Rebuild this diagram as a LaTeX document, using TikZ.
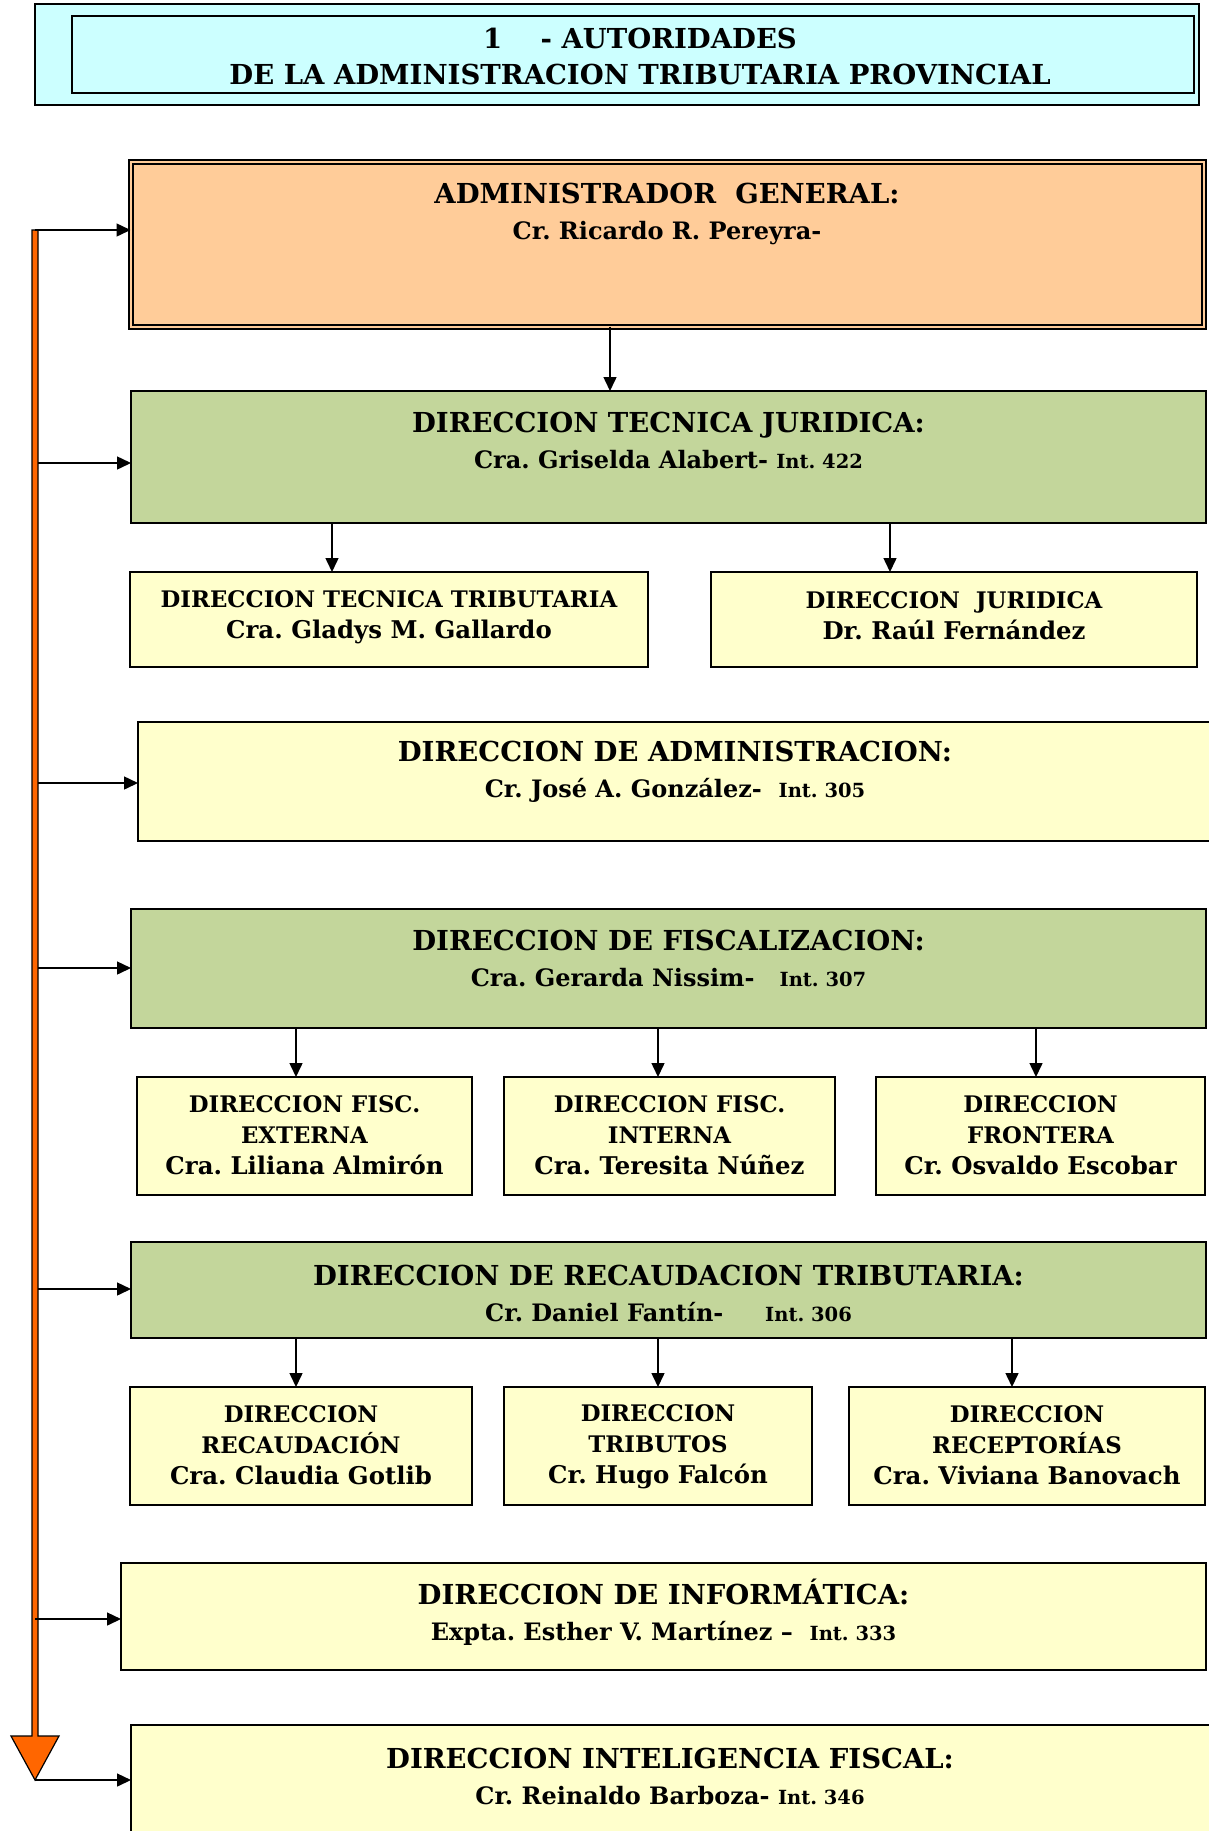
\documentclass[tikz,border=0pt]{standalone}
\usepackage{fontspec}
\setmainfont{DejaVu Serif}
\usetikzlibrary{arrows.meta,calc}

\definecolor{titlecyan}{HTML}{CCFFFF}
\definecolor{peach}{HTML}{FFCC99}
\definecolor{boxgreen}{HTML}{C3D69B}
\definecolor{boxyellow}{HTML}{FFFFCC}
\definecolor{trunkorange}{HTML}{FF6600}

\newcommand\intsize{\fontsize{19.5}{36}\selectfont}
\newcommand\namesize{\fontsize{24}{36}\selectfont}
\newcommand\subname{\fontsize{24.4}{34}\selectfont}
\frenchspacing

\begin{document}
\begin{tikzpicture}[x=1pt,y=-1pt,
    box/.style={draw,line width=1.5pt,inner sep=0pt,outer sep=0pt},
    head/.style={align=center,font=\bfseries\fontsize{27.5}{36}\selectfont},
    sub/.style={align=center,font=\bfseries\fontsize{22.8}{31}\selectfont},
    arr/.style={line width=1.5pt,-{Triangle[length=14pt,width=13pt]}},
    trunk/.style={draw,line width=1.2pt,fill=trunkorange,line join=miter}]
  \useasboundingbox (0,0) rectangle (1208,1831);
  % Title
  \draw (617,54.5) node[box,fill=titlecyan,minimum width=1164,minimum height=101] (TB) {};
  \draw (633,54.5) node[box,minimum width=1122,minimum height=77] (TI) {};
  \node[head] (TT) at (640,56) {1\ \ \ \ - AUTORIDADES\\DE LA ADMINISTRACION TRIBUTARIA PROVINCIAL};
  % General
  \draw (667,244) node[box,line width=2pt,fill=peach,double=peach,double distance=2pt,minimum width=1073,minimum height=165] (G) {};
  \node[head] (GT) at (667,214) {ADMINISTRADOR\ \ GENERAL:\\{\namesize Cr. Ricardo R. Pereyra-}};
  % Tecnica juridica
  \draw (668.5,457) node[box,fill=boxgreen,minimum width=1075,minimum height=132] (J) {};
  \node[head] (JT) at (668.5,440) {DIRECCION TECNICA JURIDICA:\\{\namesize Cra. Griselda Alabert- {\intsize Int. 422}}};
  \draw (389,619.5) node[box,fill=boxyellow,minimum width=518,minimum height=95] (J1) {};
  \node[sub] (J1T) at (389,617) {DIRECCION TECNICA TRIBUTARIA\\{\subname Cra. Gladys M. Gallardo}};
  \draw (954,619.5) node[box,fill=boxyellow,minimum width=486,minimum height=95] (J2) {};
  \node[sub] (J2T) at (954,616) {DIRECCION\ \ JURIDICA\\{\subname Dr. Raúl Fernández}};
  % Administracion
  \draw (676.5,781.5) node[box,fill=boxyellow,minimum width=1077,minimum height=119] (A) {};
  \node[head] (AT) at (675,772) {DIRECCION DE ADMINISTRACION:\\{\namesize Cr. José A. González-\ \ {\intsize Int. 305}}};
  % Fiscalizacion
  \draw (668.5,968.5) node[box,fill=boxgreen,minimum width=1075,minimum height=119] (F) {};
  \node[head] (FT) at (668.5,958) {DIRECCION DE FISCALIZACION:\\{\namesize Cra. Gerarda Nissim-\ \ \ {\intsize Int. 307}}};
  \draw (304.5,1136) node[box,fill=boxyellow,minimum width=335,minimum height=118] (F1) {};
  \node[sub] (F1T) at (304.5,1135) {DIRECCION FISC.\\EXTERNA\\{\subname Cra. Liliana Almirón}};
  \draw (669.5,1136) node[box,fill=boxyellow,minimum width=331,minimum height=118] (F2) {};
  \node[sub] (F2T) at (669.5,1135) {DIRECCION FISC.\\INTERNA\\{\subname Cra. Teresita Núñez}};
  \draw (1040.5,1136) node[box,fill=boxyellow,minimum width=329,minimum height=118] (F3) {};
  \node[sub] (F3T) at (1040.5,1135) {DIRECCION\\FRONTERA\\{\subname Cr. Osvaldo Escobar}};
  % Recaudacion
  \draw (668.5,1290) node[box,fill=boxgreen,minimum width=1075,minimum height=96] (R) {};
  \node[head] (RT) at (668.5,1293) {DIRECCION DE RECAUDACION TRIBUTARIA:\\{\namesize Cr. Daniel Fantín-\ \ \ \ \ {\intsize Int. 306}}};
  \draw (301,1446) node[box,fill=boxyellow,minimum width=342,minimum height=118] (R1) {};
  \node[sub] (R1T) at (301,1445) {DIRECCION\\RECAUDACIÓN\\{\subname Cra. Claudia Gotlib}};
  \draw (658,1446) node[box,fill=boxyellow,minimum width=308,minimum height=118] (R2) {};
  \node[sub] (R2T) at (658,1447) {DIRECCION\\TRIBUTOS\\{\subname Cr. Hugo Falcón}};
  \draw (1027,1446) node[box,fill=boxyellow,minimum width=356,minimum height=118] (R3) {};
  \node[sub] (R3T) at (1027,1445) {DIRECCION\\RECEPTORÍAS\\{\subname Cra. Viviana Banovach}};
  % Informatica
  \draw (663.5,1616.5) node[box,fill=boxyellow,minimum width=1085,minimum height=107] (I) {};
  \node[head] (IT) at (663.5,1612) {DIRECCION DE INFORMÁTICA:\\{\namesize Expta. Esther V. Martínez --\ \ {\intsize Int. 333}}};
  % Inteligencia
  \draw (671.5,1787.5) node[box,fill=boxyellow,minimum width=1081,minimum height=125] (S) {};
  \node[head] (ST) at (670,1776) {DIRECCION INTELIGENCIA FISCAL:\\{\namesize Cr. Reinaldo Barboza- {\intsize Int. 346}}};
  % Trunk
  \draw[trunk] (32,230) -- (38,230) -- (38,1736) -- (59,1736) -- (35,1780) -- (11,1736) -- (32,1736) -- cycle;
  \coordinate (T0) at (35,230);
  \coordinate (T1) at (38,463);
  \coordinate (T2) at (38,783);
  \coordinate (T3) at (38,968);
  \coordinate (T4) at (38,1289);
  \coordinate (T5) at (35,1619);
  \coordinate (T6) at (35,1780);
  \draw[arr] (T0) -- (T0 -| G.west);
  \draw[arr] (T1) -- (T1 -| J.west);
  \draw[arr] (T2) -- (T2 -| A.west);
  \draw[arr] (T3) -- (T3 -| F.west);
  \draw[arr] (T4) -- (T4 -| R.west);
  \draw[arr] (T5) -- (T5 -| I.west);
  \draw[arr] (T6) -- (T6 -| S.west);
  % Links
  \draw[arr] ($(G.south)+(-57,0)$) -- ($(J.north)+(-58.5,0)$);
  \draw[arr] ($(J1.north |- J.south)+(-57,0)$) -- ($(J1.north)+(-57,0)$);
  \draw[arr] ($(J2.north |- J.south)+(-64,0)$) -- ($(J2.north)+(-64,0)$);
  \draw[arr] ($(F1.north |- F.south)+(-8.5,0)$) -- ($(F1.north)+(-8.5,0)$);
  \draw[arr] ($(F2.north |- F.south)+(-11.5,0)$) -- ($(F2.north)+(-11.5,0)$);
  \draw[arr] ($(F3.north |- F.south)+(-4.5,0)$) -- ($(F3.north)+(-4.5,0)$);
  \draw[arr] ($(R1.north |- R.south)+(-5,0)$) -- ($(R1.north)+(-5,0)$);
  \draw[arr] (R2.north |- R.south) -- (R2.north);
  \draw[arr] ($(R3.north |- R.south)+(-15,0)$) -- ($(R3.north)+(-15,0)$);
\end{tikzpicture}
\end{document}
